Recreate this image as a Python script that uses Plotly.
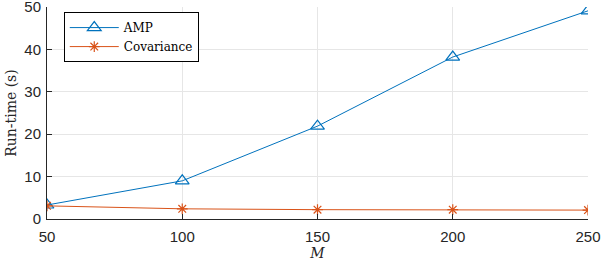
import plotly.graph_objects as go

M = [50, 100, 150, 200, 250]
amp = [3.3, 9.0, 21.9, 38.2, 49.1]
cov = [3.1, 2.4, 2.2, 2.2, 2.1]
x_ticks = [50, 100, 150, 200, 250]
y_ticks = [0, 10, 20, 30, 40, 50]

blue = "#0072BD"
orange = "#D95319"

fig = go.Figure()
fig.add_trace(go.Scatter(x=M, y=amp, mode="lines+markers", name="AMP",
                         line=dict(color=blue, width=1),
                         marker=dict(symbol="triangle-up-open", size=12, color=blue, line=dict(width=1.2))))
fig.add_trace(go.Scatter(x=M, y=cov, mode="lines+markers", name="Covariance",
                         line=dict(color=orange, width=1),
                         marker=dict(symbol="asterisk-open", size=9, color=orange, line=dict(width=1.2, color=orange))))

axis_common = dict(showgrid=True, gridcolor="#E6E6E6", gridwidth=1, zeroline=False,
                   showline=True, linecolor="#262626", linewidth=1, ticks="inside", ticklen=5,
                   tickcolor="#262626", automargin=False, ticklabeloverflow="allow",
                   tickfont=dict(family="Liberation Sans, Arial", size=15, color="#262626"))

fig.update_xaxes(range=[50, 250], tickvals=x_ticks, ticklabelstandoff=4,
                 title=dict(text="<i>M</i>", font=dict(family="DejaVu Serif, serif", size=14, color="#262626"), standoff=2),
                 **axis_common)
fig.update_yaxes(range=[0, 50], tickvals=y_ticks, ticklabelstandoff=2,
                 title=dict(text="Run-time (s)", font=dict(family="DejaVu Serif, serif", size=14, color="#262626"), standoff=4),
                 **axis_common)

fig.update_layout(width=602, height=262, margin=dict(l=47, r=14, t=7, b=43),
                  plot_bgcolor="white", paper_bgcolor="white",
                  legend=dict(x=0.031, y=0.976, xanchor="left", yanchor="top",
                              bordercolor="black", borderwidth=1, bgcolor="white",
                              font=dict(family="DejaVu Serif, serif", size=12, color="black"),
                              tracegroupgap=0, itemwidth=49))

fig.write_html("out.html", config={"displayModeBar": False},
               post_script="document.body.style.margin='0';document.body.style.padding='0';document.body.style.overflow='hidden';")
